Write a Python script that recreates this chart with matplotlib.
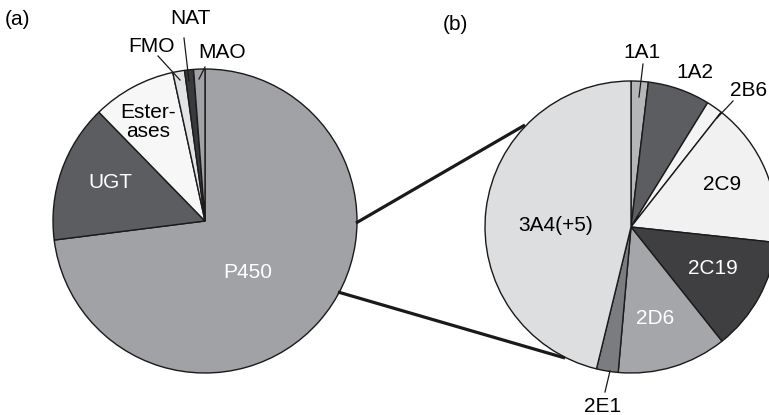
import matplotlib
matplotlib.use("Agg")
import matplotlib.pyplot as plt

plt.rcParams['font.family'] = ['Liberation Sans', 'DejaVu Sans']

# ---- data ----
a_labels = ["P450", "UGT", "Ester-\nases", "FMO", "NAT", "MAO"]
a_values = [73.0, 14.7, 8.9, 1.25, 0.95, 1.2]
a_colors = ["#a1a2a5", "#5c5d60", "#f7f7f7", "#e2e3e5", "#3a3a3c", "#a1a2a5"]

b_labels = ["1A1", "1A2", "2B6", "2C9", "2C19", "2D6", "2E1", "3A4(+5)"]
b_values = [1.9, 6.9, 1.8, 16.1, 12.6, 12.1, 2.4, 46.2]
b_colors = ["#b5b6b8", "#5c5d60", "#f4f4f4", "#f1f1f1", "#3f3f41",
            "#a4a6a9", "#7b7c7f", "#dddee0"]

W, H = 769, 415
fig = plt.figure(figsize=(W / 100, H / 100), dpi=100)
ax = fig.add_axes([0, 0, 1, 1])


def Y(y):
    return H - y


wp = dict(edgecolor="#1a1a1a", linewidth=1.0)
ax.pie(a_values, colors=a_colors, startangle=90, counterclock=False,
       center=(205, Y(221)), radius=152, wedgeprops=wp, frame=True)
ax.pie(b_values, colors=b_colors, startangle=90, counterclock=False,
       center=(631, Y(227)), radius=146, wedgeprops=wp, frame=True)

fs = 15
# pie (a) labels
ax.text(248, Y(273), a_labels[0], color="white", fontsize=fs, ha="center", va="center")
ax.text(110, Y(182), a_labels[1], color="white", fontsize=fs, ha="center", va="center")
ax.text(148, Y(122), a_labels[2], color="black", fontsize=fs, ha="center", va="center",
        linespacing=1.05)
ax.text(152, Y(46), a_labels[3], color="black", fontsize=fs, ha="center", va="center")
ax.text(190, Y(19), a_labels[4], color="black", fontsize=fs, ha="center", va="center")
ax.text(222, Y(52), a_labels[5], color="black", fontsize=fs, ha="center", va="center")

thin = dict(color="#1a1a1a", lw=0.9)
ax.plot([158, 180], [Y(56), Y(80)], **thin)
ax.plot([184, 189], [Y(38), Y(81)], **thin)
ax.plot([205, 199], [Y(67), Y(79)], **thin)

# pie (b) labels
ax.text(642, Y(52), b_labels[0], color="black", fontsize=fs, ha="center", va="center")
ax.text(695, Y(73), b_labels[1], color="black", fontsize=fs, ha="center", va="center")
ax.text(749, Y(90), b_labels[2], color="black", fontsize=fs, ha="center", va="center")
ax.text(722, Y(184), b_labels[3], color="black", fontsize=fs, ha="center", va="center")
ax.text(713, Y(269), b_labels[4], color="white", fontsize=fs, ha="center", va="center")
ax.text(655, Y(318), b_labels[5], color="white", fontsize=fs, ha="center", va="center")
ax.text(603, Y(406), b_labels[6], color="black", fontsize=fs, ha="center", va="center")
ax.text(556, Y(225), b_labels[7], color="black", fontsize=fs, ha="center", va="center")

ax.plot([643, 639], [Y(64), Y(97)], **thin)
ax.plot([733, 717], [Y(101), Y(118)], **thin)
ax.plot([610, 605], [Y(371), Y(392)], **thin)

# connectors
thick = dict(color="#1a1a1a", lw=2.3, solid_capstyle="butt")
ax.plot([356, 525], [Y(223), Y(125)], **thick)
ax.plot([338, 565], [Y(292), Y(358)], **thick)

ax.text(18, Y(20), "(a)", fontsize=fs, ha="center", va="center")
ax.text(455, Y(25), "(b)", fontsize=fs, ha="center", va="center")

ax.set_xlim(0, W)
ax.set_ylim(0, H)
ax.set_aspect("equal")
ax.axis("off")

fig.savefig("out.png", dpi=100)
